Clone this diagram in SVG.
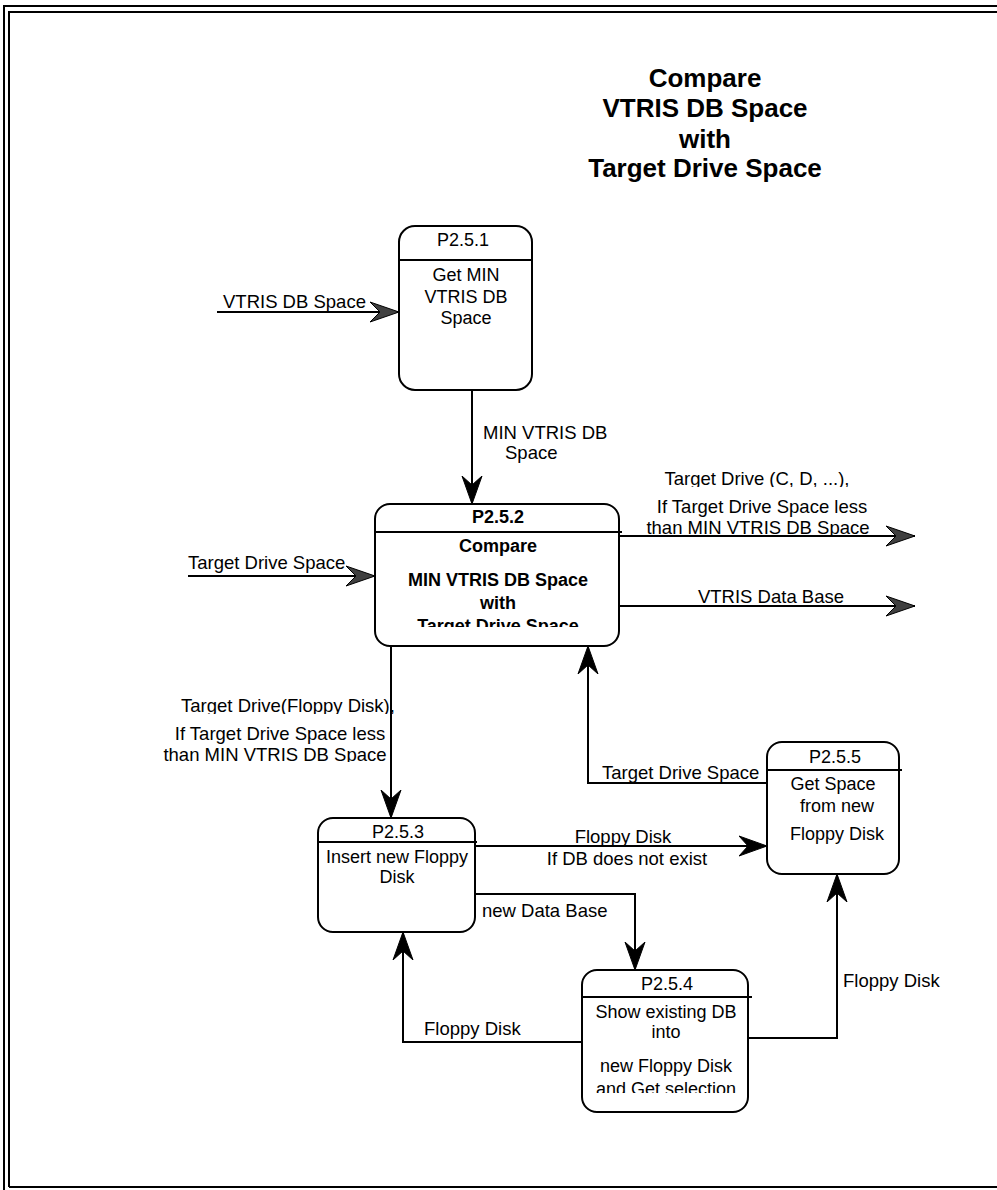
<svg xmlns="http://www.w3.org/2000/svg" width="997" height="1190" viewBox="0 0 997 1190">
<style>
.box{fill:#fff;stroke:#000;stroke-width:2}
.hl{stroke:#000;stroke-width:2;fill:none}
.c{stroke:#000;stroke-width:2;fill:none}
.frame{stroke:#000;stroke-width:2;fill:none}
text{font-family:"Liberation Sans",Arial,sans-serif;fill:#000}
.t{font-size:18px;text-anchor:middle}
.tb{font-size:18px;text-anchor:middle;font-weight:bold}
.l{font-size:18.5px}
.lm{font-size:18.5px;text-anchor:middle}
.title{font-size:26px;font-weight:bold;text-anchor:middle}
</style>
<defs>
<marker id="ab" markerUnits="userSpaceOnUse" markerWidth="30" markerHeight="22" refX="28" refY="11" orient="auto">
<path d="M0,1 L28,11 L0,21 L9,11 Z" fill="#000" stroke="#000" stroke-width="1"/>
</marker>
<marker id="ag" markerUnits="userSpaceOnUse" markerWidth="32" markerHeight="22" refX="29" refY="11" orient="auto">
<path d="M0,1 L29,11 L0,21 L10,11 Z" fill="#404040" stroke="#000" stroke-width="1"/>
</marker>
<clipPath id="clipP252"><rect x="376" y="533" width="242" height="94"/></clipPath>
<clipPath id="clipP254"><rect x="583" y="998" width="164" height="95"/></clipPath>
<clipPath id="clipO1a"><rect x="600" y="460" width="320" height="27"/></clipPath>
<clipPath id="clipO1c"><rect x="600" y="515" width="320" height="20"/></clipPath>
<clipPath id="clipL1a"><rect x="140" y="690" width="270" height="24"/></clipPath>
<clipPath id="clipL1c"><rect x="140" y="742" width="270" height="20"/></clipPath>
</defs>

<g id="frame">
<path class="frame" d="M4,1190 V6 H997"/>
<path class="frame" d="M9,1187 V12 H997"/>
<path class="frame" d="M9,1187 H997"/>
</g>

<g id="title">
<text class="title" x="705" y="87">Compare</text>
<text class="title" x="705" y="117">VTRIS DB Space</text>
<text class="title" x="705" y="148">with</text>
<text class="title" x="705" y="177">Target Drive Space</text>
</g>

<g id="connectors">
<path class="c" d="M217,312 H399" marker-end="url(#ag)"/>
<path class="c" d="M472,390 V504" marker-end="url(#ab)"/>
<path class="c" d="M188,576 H375" marker-end="url(#ag)"/>
<path class="c" d="M620,536 H915" marker-end="url(#ag)"/>
<path class="c" d="M620,606 H915" marker-end="url(#ag)"/>
<path class="c" d="M391,646 V818" marker-end="url(#ab)"/>
<path class="c" d="M767,783 H588 V646" marker-end="url(#ab)"/>
<path class="c" d="M475,846 H767" marker-end="url(#ab)"/>
<path class="c" d="M475,894 H635 V970" marker-end="url(#ab)"/>
<path class="c" d="M582,1042 H403 V932" marker-end="url(#ab)"/>
<path class="c" d="M748,1038 H837 V874" marker-end="url(#ab)"/>

<text class="l" x="223" y="308">VTRIS DB Space</text>
<text class="l" x="483" y="439">MIN VTRIS DB</text>
<text class="l" x="505" y="459">Space</text>
<text class="l" x="188" y="569">Target Drive Space</text>
<text class="lm" x="757" y="485" clip-path="url(#clipO1a)">Target Drive (C, D, ...),</text>
<text class="lm" x="762" y="513">If Target Drive Space less</text>
<text class="lm" x="758" y="534" clip-path="url(#clipO1c)">than MIN VTRIS DB Space</text>
<text class="lm" x="771" y="603">VTRIS Data Base</text>
<text class="lm" x="288" y="712" clip-path="url(#clipL1a)">Target Drive(Floppy Disk),</text>
<text class="lm" x="280" y="740">If Target Drive Space less</text>
<text class="lm" x="275" y="761" clip-path="url(#clipL1c)">than MIN VTRIS DB Space</text>
<text class="l" x="602" y="779">Target Drive Space</text>
<text class="lm" x="623" y="843">Floppy Disk</text>
<text class="lm" x="627" y="865">If DB does not exist</text>
<text class="l" x="482" y="917">new Data Base</text>
<text class="l" x="424" y="1035">Floppy Disk</text>
<text class="l" x="843" y="987">Floppy Disk</text>
</g>

<g id="P2.5.1">
<rect class="box" x="399" y="226" width="133" height="164" rx="16"/>
<path class="hl" d="M399,260 H533"/>
<text class="t" x="463" y="246">P2.5.1</text>
<text class="t" x="466" y="281">Get MIN</text>
<text class="t" x="466" y="303">VTRIS DB</text>
<text class="t" x="466" y="324">Space</text>
</g>

<g id="P2.5.2">
<rect class="box" x="375" y="504" width="244" height="142" rx="15"/>
<path class="hl" d="M375,532 H622"/>
<text class="tb" x="498" y="523">P2.5.2</text>
<g clip-path="url(#clipP252)">
<text class="tb" x="498" y="552">Compare</text>
<text class="tb" x="498" y="586">MIN VTRIS DB Space</text>
<text class="tb" x="498" y="609">with</text>
<text class="tb" x="498" y="632">Target Drive Space</text>
</g>
</g>

<g id="P2.5.3">
<rect class="box" x="318" y="818" width="157" height="114" rx="15"/>
<path class="hl" d="M318,842 H477"/>
<text class="t" x="398" y="838">P2.5.3</text>
<text class="t" x="397" y="863">Insert new Floppy</text>
<text class="t" x="397" y="883">Disk</text>
</g>

<g id="P2.5.4">
<rect class="box" x="582" y="970" width="166" height="142" rx="15"/>
<path class="hl" d="M582,997 H752"/>
<text class="t" x="667" y="990">P2.5.4</text>
<g clip-path="url(#clipP254)">
<text class="t" x="666" y="1018">Show existing DB</text>
<text class="t" x="666" y="1038">into</text>
<text class="t" x="666" y="1072">new Floppy Disk</text>
<text class="t" x="666" y="1095">and Get selection</text>
</g>
</g>

<g id="P2.5.5">
<rect class="box" x="767" y="742" width="132" height="132" rx="15"/>
<path class="hl" d="M767,770 H902"/>
<text class="t" x="835" y="763">P2.5.5</text>
<text class="t" x="833" y="790">Get Space</text>
<text class="t" x="837" y="812">from new</text>
<text class="t" x="837" y="840">Floppy Disk</text>
</g>
</svg>
